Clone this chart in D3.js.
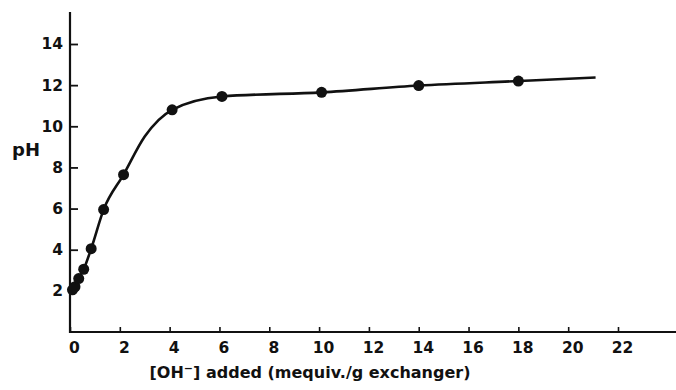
<!DOCTYPE html>
<html>
<head>
<meta charset="utf-8">
<style>
  body { margin: 0; background: #fff; }
  text { font-family: "DejaVu Sans", sans-serif; font-weight: bold; fill: #111; }
</style>
</head>
<body>
<div id="chart"></div>
<script src="https://cdn.jsdelivr.net/npm/d3@7"></script>
<script>
// titration points
var ohAdded = [0.1, 0.2, 0.35, 0.55, 0.85, 1.35, 2.15, 4.1, 6.1, 10.1, 14.0, 18.0];
var phValues = [2.05, 2.2, 2.6, 3.05, 4.05, 5.95, 7.65, 10.8, 11.45, 11.65, 11.98, 12.2];
// smooth curve drawn through the points (ends past the last point)
var curveX = [0.0, 0.1, 0.2, 0.35, 0.55, 0.85, 1.35, 2.15, 3.0, 4.1, 6.1, 10.1, 14.0, 18.0, 21.1];
var curveY = [2.0, 2.05, 2.2, 2.6, 3.05, 4.05, 5.95, 7.65, 9.5, 10.8, 11.45, 11.65, 11.98, 12.2, 12.37];
var xTicks = [0, 2, 4, 6, 8, 10, 12, 14, 16, 18, 20, 22];
var yTicks = [2, 4, 6, 8, 10, 12, 14];

var width = 676, height = 390;

var svg = d3.select("#chart").append("svg")
    .attr("width", width)
    .attr("height", height);

var x = d3.scaleLinear().domain([0, 22]).range([70, 618]);
var y = d3.scaleLinear().domain([0, 14]).range([332, 44]);

// axes
var xAxis = d3.axisBottom(x)
    .tickValues(xTicks)
    .tickSizeInner(-5)
    .tickSizeOuter(0)
    .tickPadding(10);

var yAxis = d3.axisLeft(y)
    .tickValues(yTicks)
    .tickSizeInner(-8)
    .tickSizeOuter(0)
    .tickPadding(7);

var gx = svg.append("g")
    .attr("transform", "translate(0," + y(0) + ")")
    .call(xAxis);
gx.select(".domain").remove();
gx.append("line")
    .attr("x1", x(0)).attr("x2", width)
    .attr("stroke", "#111").attr("stroke-width", 2.2);
gx.selectAll(".tick line").attr("stroke", "#111").attr("stroke-width", 1.6);
gx.selectAll(".tick text")
    .attr("dx", 4)
    .attr("font-size", 15.5)
    .style("font-family", "DejaVu Sans")
    .style("font-weight", "bold");

var gy = svg.append("g")
    .attr("transform", "translate(" + x(0) + ",0)")
    .call(yAxis);
gy.select(".domain").remove();
gy.append("line")
    .attr("y1", y(0) + 1).attr("y2", 12)
    .attr("stroke", "#111").attr("stroke-width", 2.2);
gy.selectAll(".tick line").attr("stroke", "#111").attr("stroke-width", 1.8);
gy.selectAll(".tick text")
    .attr("font-size", 15.5)
    .style("font-family", "DejaVu Sans")
    .style("font-weight", "bold");
gy.selectAll(".tick").filter(function(d) { return d === 2; }).select("line").remove();

// curve
var line = d3.line()
    .x(function(d) { return x(d[0]); })
    .y(function(d) { return y(d[1]); })
    .curve(d3.curveMonotoneX);

svg.append("path")
    .datum(d3.zip(curveX, curveY))
    .attr("fill", "none")
    .attr("stroke", "#111")
    .attr("stroke-width", 2.6)
    .attr("d", line);

svg.selectAll(".pt")
    .data(d3.zip(ohAdded, phValues))
    .enter()
    .append("circle")
    .attr("class", "pt")
    .attr("cx", function(d) { return x(d[0]); })
    .attr("cy", function(d) { return y(d[1]); })
    .attr("r", 5.5)
    .attr("fill", "#111");

// axis titles
svg.append("text")
    .attr("x", 26)
    .attr("y", 156)
    .attr("text-anchor", "middle")
    .attr("font-size", 18)
    .text("pH");

var xl = svg.append("text")
    .attr("x", 310)
    .attr("y", 378)
    .attr("text-anchor", "middle")
    .attr("font-size", 16);
xl.append("tspan").text("[OH");
xl.append("tspan").attr("dy", -6).attr("font-size", 11).text("\u2212");
xl.append("tspan").attr("dy", 6).text("] added (mequiv./g exchanger)");
</script>
</body>
</html>
